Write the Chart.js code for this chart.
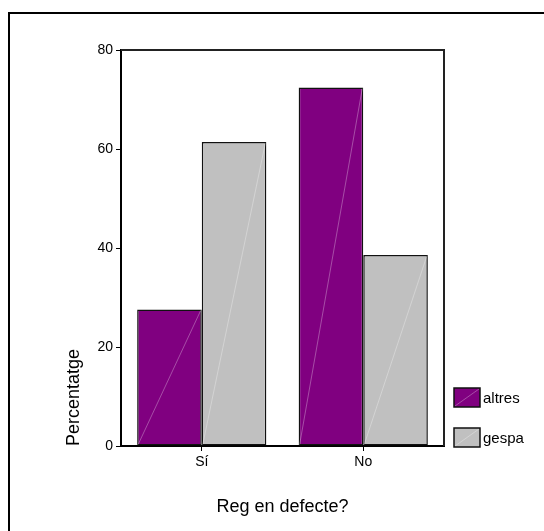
<!DOCTYPE html>
<html>
<head>
<meta charset="utf-8">
<script src="https://cdn.jsdelivr.net/npm/chart.js@4.4.0/dist/chart.umd.min.js"></script>
<style>
  html, body { margin: 0; padding: 0; background: #fff; overflow: hidden; }
  #wrap { position: relative; width: 544px; height: 531px; }
  #frame { position: absolute; left: 8px; top: 12px; width: 700px; height: 700px;
           border-left: 2px solid #000; border-top: 2px solid #000; }
  #chart { position: absolute; left: 0; top: 0; }
</style>
</head>
<body>
<div id="wrap">
  <div id="frame"></div>
  <canvas id="chart" width="544" height="531"></canvas>
</div>
<script>
const categories = ["Sí", "No"];
const seriesNames = ["altres", "gespa"];
const altresValues = [27.6, 72.4];
const gespaValues = [61.4, 38.6];
const yTicks = [0, 20, 40, 60, 80];

const colors = ["#800080", "#C0C0C0"];
const FONT = "'Liberation Sans', Arial, sans-serif";

// box around plot, diagonal streaks, and legend on the right
const decorations = {
  id: "decorations",
  afterDatasetsDraw(chart) {
    const ctx = chart.ctx;
    ctx.save();
    ctx.strokeStyle = "rgba(255,255,255,0.3)";
    ctx.lineWidth = 1;
    chart.data.datasets.forEach((ds, i) => {
      chart.getDatasetMeta(i).data.forEach((bar) => {
        const half = bar.width / 2;
        ctx.beginPath();
        ctx.moveTo(bar.x - half + 1, bar.base - 1);
        ctx.lineTo(bar.x + half - 1, bar.y + 1);
        ctx.stroke();
      });
    });
    ctx.restore();
  },
  afterDraw(chart) {
    const ctx = chart.ctx;
    const a = chart.chartArea;
    ctx.save();
    ctx.strokeStyle = "#222";
    ctx.lineWidth = 2;
    ctx.beginPath();
    ctx.moveTo(a.left, a.top);
    ctx.lineTo(a.right, a.top);
    ctx.lineTo(a.right, a.bottom);
    ctx.stroke();

    ctx.font = "15px " + FONT;
    ctx.textBaseline = "middle";
    chart.data.datasets.forEach((ds, i) => {
      const x = 454, y = 388 + i * 40, w = 26, h = 19;
      ctx.fillStyle = ds.backgroundColor;
      ctx.fillRect(x, y, w, h);
      ctx.strokeStyle = "rgba(255,255,255,0.3)";
      ctx.lineWidth = 1;
      ctx.beginPath();
      ctx.moveTo(x + 1, y + h - 1);
      ctx.lineTo(x + w - 1, y + 1);
      ctx.stroke();
      ctx.strokeStyle = "#111";
      ctx.lineWidth = 1.5;
      ctx.strokeRect(x, y, w, h);
      ctx.fillStyle = "#000";
      ctx.fillText(ds.label, x + w + 3, y + h / 2 + 1);
    });
    ctx.restore();
  }
};

new Chart(document.getElementById("chart").getContext("2d"), {
  type: "bar",
  data: {
    labels: categories,
    datasets: [
      { label: seriesNames[0], data: altresValues, backgroundColor: colors[0] },
      { label: seriesNames[1], data: gespaValues, backgroundColor: colors[1] }
    ]
  },
  options: {
    responsive: false,
    animation: false,
    layout: { padding: { top: 50, right: 100, left: 0, bottom: 0 } },
    datasets: {
      bar: {
        barPercentage: 1,
        categoryPercentage: 0.8,
        borderColor: "#111",
        borderWidth: 1.5,
        borderSkipped: false
      }
    },
    plugins: {
      legend: { display: false },
      tooltip: { enabled: false }
    },
    scales: {
      x: {
        grid: { offset: false, drawOnChartArea: false, drawTicks: true, tickLength: 5, color: "#000", lineWidth: 1 },
        border: { color: "#000", width: 2 },
        ticks: { color: "#000", font: { family: FONT, size: 14 }, padding: 3 },
        title: { display: true, text: "Reg en defecte?", color: "#000",
                 font: { family: FONT, size: 18 }, padding: { top: 0, bottom: 13 } },
        afterFit(scale) { scale.height = 85; }
      },
      y: {
        min: 0,
        max: 80,
        afterBuildTicks(scale) { scale.ticks = yTicks.map((v) => ({ value: v })); },
        grid: { drawOnChartArea: false, drawTicks: true, tickLength: 5, color: "#000", lineWidth: 1 },
        border: { color: "#000", width: 2 },
        ticks: { color: "#000", font: { family: FONT, size: 14 }, padding: 3 },
        title: { display: true, text: "Percentatge", align: "start", color: "#000",
                 font: { family: FONT, size: 18 }, padding: { top: 63, bottom: 0 } },
        afterFit(scale) { scale.width = 121; }
      }
    }
  },
  plugins: [decorations]
});
</script>
</body>
</html>
